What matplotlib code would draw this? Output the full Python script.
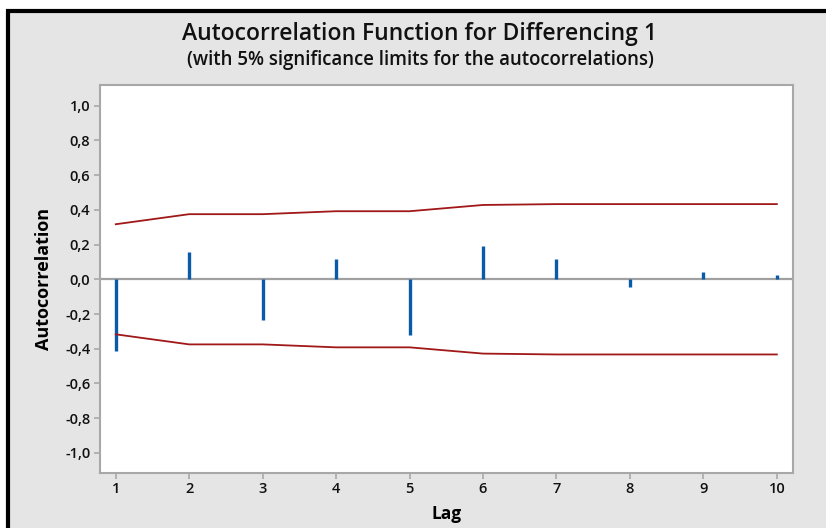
import matplotlib.pyplot as plt
from matplotlib.patches import Rectangle

lags = [1, 2, 3, 4, 5, 6, 7, 8, 9, 10]
acf = [-0.413, 0.157, -0.236, 0.117, -0.323, 0.192, 0.117, -0.044, 0.040, 0.023]
limit = [0.317, 0.375, 0.375, 0.392, 0.392, 0.428, 0.433, 0.433, 0.433, 0.433]
yticks = [-1.0, -0.8, -0.6, -0.4, -0.2, 0.0, 0.2, 0.4, 0.6, 0.8, 1.0]
ytick_labels = ["-1,0", "-0,8", "-0,6", "-0,4", "-0,2", "0,0", "0,2", "0,4", "0,6", "0,8", "1,0"]

plt.rcParams['font.family'] = ['Open Sans', 'DejaVu Sans']

W, H = 826, 528
fig = plt.figure(figsize=(W / 100, H / 100), dpi=100, facecolor='white')

# gray panel with black frame on top/left
fig.add_artist(Rectangle((8 / W, -0.1), 1.2, 1 - 11 / H + 0.1, transform=fig.transFigure,
                         facecolor='#e5e5e5', edgecolor='black', linewidth=3.0, zorder=-5))

ax = fig.add_axes([100 / W, 1 - 472.7 / H, (793 - 100) / W, (472.7 - 85) / H])
ax.set_zorder(2)
ax.set_facecolor('white')

ax.axhline(0, color='#a0a0a0', linewidth=1.6, zorder=1)
ax.vlines(lags, 0, acf, color='#0a5aaa', linewidth=2.4, zorder=2)
ax.plot(lags, limit, color='#a01818', linewidth=1.3, zorder=3)
ax.plot(lags, [-v for v in limit], color='#a01818', linewidth=1.3, zorder=3)

ax.set_xlim(0.786, 10.22)
ax.set_ylim(-1.114, 1.119)
ax.set_xticks(lags)
ax.set_xticklabels([str(l) for l in lags])
ax.set_yticks(yticks)
ax.set_yticklabels(ytick_labels)

for s in ax.spines.values():
    s.set_color('#a8a8a8')
    s.set_linewidth(1.5)
ax.tick_params(direction='out', length=4, width=1.2, color='#a8a8a8', labelsize=10.5,
               labelcolor='#111111', pad=3)
for lab in ax.get_xticklabels() + ax.get_yticklabels():
    lab.set_fontweight('semibold')

ax.set_xlabel('Lag', fontsize=12.5, fontweight='bold', labelpad=6)
ax.set_ylabel('Autocorrelation', fontsize=13, fontweight='bold', labelpad=9)

fig.text(420 / W, 1 - 40 / H, 'Autocorrelation Function for Differencing 1', ha='center', va='baseline',
         fontsize=16.45, fontweight='semibold', color='#111111')
fig.text(420 / W, 1 - 65 / H, '(with 5% significance limits for the autocorrelations)', ha='center',
         va='baseline', fontsize=13.4, fontweight='semibold', color='#111111')

fig.savefig('out.png', dpi=100, facecolor=fig.get_facecolor())
